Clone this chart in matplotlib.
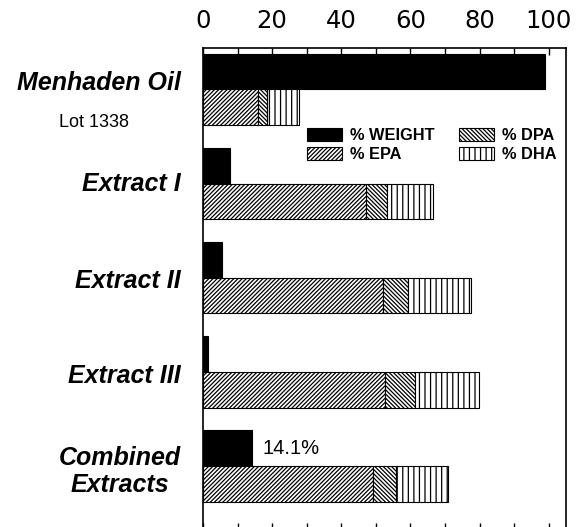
import numpy as np
import matplotlib
matplotlib.use("Agg")
import matplotlib.pyplot as plt
from matplotlib.transforms import blended_transform_factory

# datos (% del total)
muestras = ["Menhaden Oil", "Extract I", "Extract II", "Extract III", "Combined\nExtracts"]
peso = [99.0, 7.8, 5.5, 1.5, 14.1]
epa = [16.0, 47.2, 52.1, 52.5, 49.3]
dpa = [2.6, 6.0, 7.3, 8.7, 6.4]
dha = [9.2, 13.2, 18.0, 18.5, 15.3]
ticks_x = [0, 20, 40, 60, 80, 100]

plt.rcParams['font.family'] = ['Liberation Sans', 'DejaVu Sans']
plt.rcParams['hatch.linewidth'] = 0.9

fig = plt.figure(figsize=(5.84, 5.27), dpi=100)
ax = fig.add_axes([203/584, -3/527, 363/584, 482/527])

y = np.arange(len(muestras))
h = 0.38
epa = np.array(epa)
dpa = np.array(dpa)
dha = np.array(dha)

ax.barh(y - h, peso, height=h, align='edge', color='black', edgecolor='black',
        linewidth=0.8, label='% WEIGHT')
ax.barh(y, epa, height=h, align='edge', color='white', edgecolor='black',
        hatch='////////', linewidth=0.8, label='% EPA')
ax.barh(y, dpa, left=epa, height=h, align='edge', color='white', edgecolor='black',
        hatch='\\' * 8, linewidth=0.8, label='% DPA')
ax.barh(y, dha, left=epa + dpa, height=h, align='edge', color='white', edgecolor='black',
        hatch='|||', linewidth=0.8, label='% DHA')

ax.set_xlim(0, 105)
ax.set_ylim(4.68, -0.44)

ax.xaxis.tick_top()
ax.set_xticks(ticks_x)
ax.set_xticks(np.arange(10, 101, 20), minor=True)
ax.set_xticklabels([str(t) for t in ticks_x], fontsize=17.5, family='DejaVu Sans')
ax.tick_params(axis='x', which='both', direction='in', length=5, width=1,
               top=True, bottom=True, pad=11)
ax.set_yticks([])
for s in ax.spines.values():
    s.set_linewidth(1.2)

# etiquetas de las muestras
trans = blended_transform_factory(ax.transAxes, ax.transData)
desfase = [-0.07, 0.0, 0.03, 0.04, 0.06]
for i, nombre in enumerate(muestras):
    ax.text(-0.06, y[i] + desfase[i], nombre, transform=trans, ha='right', va='center',
            fontsize=18, fontweight='bold', fontstyle='italic', multialignment='center',
            linespacing=1.15, clip_on=False)
ax.text(-0.30, 0.35, "Lot 1338", transform=trans, ha='center', va='center', fontsize=13)

ax.text(peso[4] + 3.2, y[4] - h / 2, "14.1%", ha='left', va='center', fontsize=14.5)

handles, labels = ax.get_legend_handles_labels()
leg = ax.legend(handles, labels, ncol=2,
                loc='upper left', bbox_to_anchor=(0.265, 0.852), frameon=False,
                borderpad=0, handlelength=2.1, handleheight=0.85, handletextpad=0.5,
                columnspacing=1.5, labelspacing=0.25,
                prop={'family': 'Liberation Sans', 'weight': 'bold', 'size': 11.8})

fig.savefig("out.png", dpi=100)
